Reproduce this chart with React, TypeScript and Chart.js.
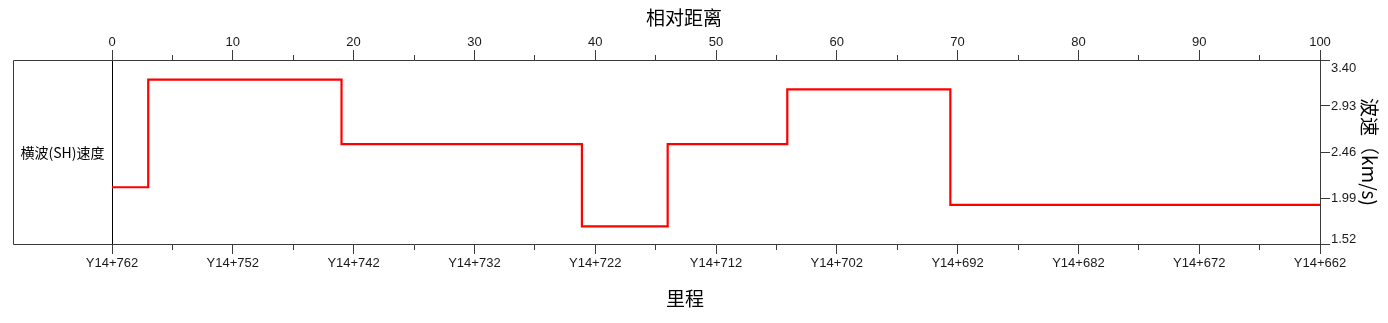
import React, { useEffect, useRef } from 'react';
import { Chart, registerables } from 'chart.js';

Chart.register(...registerables);

// ---- data ----
const distance = [0, 3, 19, 38.9, 46, 55.9, 69.4, 100];
const velocity = [2.1, 3.2, 2.54, 1.7, 2.54, 3.1, 1.92, 1.92];
const yTicks = [1.52, 1.99, 2.46, 2.93, 3.4];
const chainagePrefix = 'Y14+';
const chainageStart = 762;
const topTitle = '相对距离';
const bottomTitle = '里程';
const rightTitle = '波速（km/s)';
const rowLabel = '横波(SH)速度';

// ---- styles ----
const AXIS = '#3a3a3a';
const TEXT = '#1a1a1a';
const TICK_FONT = { family: '"Liberation Sans", Arial, sans-serif', size: 13 };
const CJK = '"Noto Sans CJK SC", "Noto Sans", sans-serif';

const isMajor = (v: number) => Math.round(v) % 10 === 0;

const framePlugin = {
  id: 'frame',
  afterDraw(chart: any) {
    const { ctx, chartArea } = chart;
    const ys = chart.scales.y;
    const top = Math.round(chartArea.top) + 0.5;
    const bottom = Math.round(chartArea.bottom) + 0.5;
    const left = chartArea.left;
    ctx.save();
    ctx.strokeStyle = AXIS;
    ctx.lineWidth = 1;
    ctx.beginPath();
    ctx.moveTo(left, top);
    ctx.lineTo(13.5, top);
    ctx.lineTo(13.5, bottom);
    ctx.lineTo(left, bottom);
    ctx.stroke();

    // right axis tick labels (end labels kept inside the frame)
    ctx.fillStyle = TEXT;
    ctx.font = `${TICK_FONT.size}px ${TICK_FONT.family}`;
    ctx.textAlign = 'left';
    ctx.textBaseline = 'middle';
    yTicks.forEach((v) => {
      let y = ys.getPixelForValue(v);
      y = Math.min(Math.max(y, chartArea.top + 8), chartArea.bottom - 5);
      ctx.fillText(v.toFixed(2), ys.left + 11, y);
    });

    // titles
    ctx.fillStyle = '#000';
    ctx.textAlign = 'center';
    ctx.font = `19px ${CJK}`;
    ctx.fillText(topTitle, 684, 18);
    ctx.fillText(bottomTitle, 685, 299);
    ctx.font = `14px ${CJK}`;
    ctx.fillText(rowLabel, (13 + left) / 2, 153);
    ctx.restore();
  },
};

export default function App() {
  const ref = useRef<HTMLCanvasElement>(null);

  useEffect(() => {
    if (!ref.current) return;
    const chart = new Chart(ref.current, {
      type: 'line',
      data: {
        datasets: [
          {
            data: distance.map((x, i) => ({ x, y: velocity[i] })),
            borderColor: '#ff0000',
            borderWidth: 2.2,
            pointRadius: 0,
            stepped: true,
            fill: false,
            xAxisID: 'x',
            yAxisID: 'y',
          },
        ],
      },
      options: {
        animation: false,
        responsive: false,
        events: [],
        layout: { padding: { left: 112, top: 0, right: 0, bottom: 0 } },
        plugins: { legend: { display: false }, tooltip: { enabled: false } },
        scales: {
          x: {
            type: 'linear',
            position: 'top',
            min: 0,
            max: 100,
            afterFit: (s: any) => {
              s.height = 60;
            },
            border: { color: AXIS, width: 1 },
            grid: {
              drawOnChartArea: true,
              color: (c: any) => (c.tick && c.tick.value === 0 ? '#000000' : 'rgba(0,0,0,0)'),
              tickColor: AXIS,
              tickLength: 10,
              tickBorderDash: (c: any) => (c.tick && !isMajor(c.tick.value) ? [0, 5, 5, 100] : []),
            },
            ticks: {
              stepSize: 5,
              autoSkip: false,
              maxRotation: 0,
              padding: 0,
              color: TEXT,
              font: TICK_FONT,
              callback: (v: any) => (isMajor(v) ? String(Math.round(v)) : ''),
            },
          },
          x2: {
            type: 'linear',
            position: 'bottom',
            min: 0,
            max: 100,
            afterFit: (s: any) => {
              s.height = 79;
            },
            border: { color: AXIS, width: 1 },
            grid: {
              drawOnChartArea: false,
              color: AXIS,
              tickLength: 10,
              tickBorderDash: (c: any) => (c.tick && !isMajor(c.tick.value) ? [5, 100] : []),
            },
            ticks: {
              stepSize: 5,
              autoSkip: false,
              maxRotation: 0,
              padding: 2,
              color: TEXT,
              font: TICK_FONT,
              callback: (v: any) =>
                isMajor(v) ? chainagePrefix + (chainageStart - Math.round(v)) : '',
            },
          },
          y: {
            type: 'linear',
            position: 'right',
            min: yTicks[0],
            max: yTicks[yTicks.length - 1],
            afterBuildTicks: (s: any) => {
              s.ticks = yTicks.map((v) => ({ value: v }));
            },
            afterFit: (s: any) => {
              s.width = 68;
            },
            border: { color: AXIS, width: 1 },
            grid: { drawOnChartArea: false, color: AXIS, tickLength: 10 },
            ticks: { display: false },
            title: {
              display: true,
              text: rightTitle,
              color: '#000',
              font: { family: CJK, size: 19 },
              padding: { top: 7, bottom: 0 },
            },
          },
        },
      },
      plugins: [framePlugin],
    } as any);
    return () => chart.destroy();
  }, []);

  return (
    <div style={{ position: 'absolute', left: 0, top: 0, width: 1388, height: 323, background: '#fff' }}>
      <canvas ref={ref} width={1388} height={323} style={{ display: 'block' }} />
    </div>
  );
}
